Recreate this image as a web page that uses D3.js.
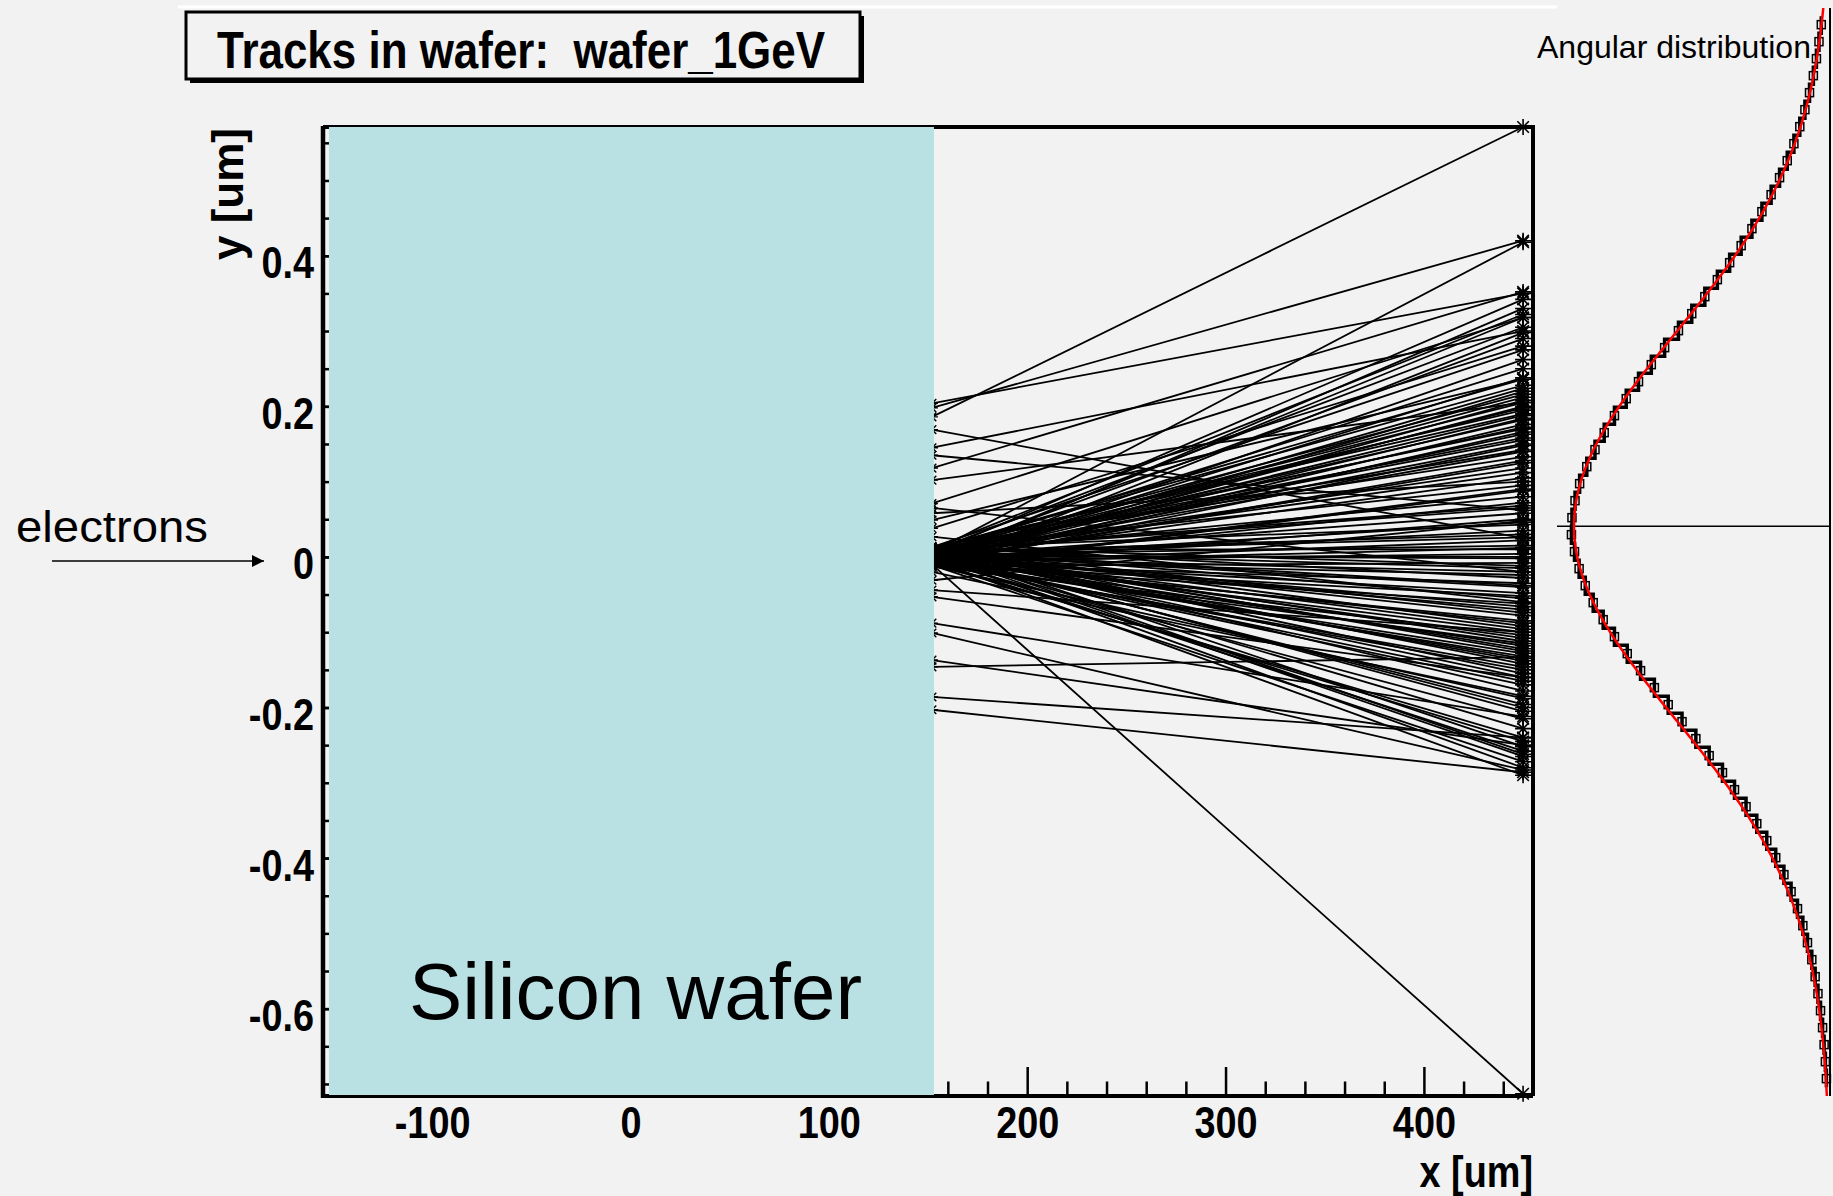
<!DOCTYPE html>
<html>
<head>
<meta charset="utf-8">
<script src="https://cdn.jsdelivr.net/npm/d3@7"></script>
<style>
html, body { margin: 0; padding: 0; background: #f2f2f2; }
svg { display: block; }
text { font-family: "Liberation Sans", Arial, Helvetica, sans-serif; }
</style>
</head>
<body>
<div id="chart"></div>
<script>
// Tick labels of the track plot
var xTicks = [-100, 0, 100, 200, 300, 400];
var yTicks = [0.4, 0.2, 0, -0.2, -0.4, -0.6];

// Wafer extent in x [um], and where tracks leave it / are recorded
var waferX = [-152, 153];
var trackX = [152, 450];

// Track y [um] at wafer exit and at x = 450 um
var trackStartY = [
    0.204, 0.198, 0.186, 0.169, 0.145, 0.135, 0.118, 0.102, 0.071, 0.065,
    0.058, 0.049, 0.038, 0.027, -0.020, -0.031, -0.044, -0.053, -0.088, -0.101,
    -0.137, -0.146, -0.186, -0.203, -0.010, 0.006,
    0.004, -0.006, 0.011, -0.002, 0.008, -0.012, 0.002, 0.013, -0.008, 0.005,
    -0.003, 0.010, -0.010, 0.001, 0.007, -0.005, 0.012, -0.001, 0.003, -0.009,
    0.009, -0.004, 0.006, -0.011, 0.000, 0.014, -0.007, 0.004, -0.002, 0.011,
    -0.013, 0.005, -0.006, 0.008, 0.001, -0.010, 0.012, -0.003, 0.006, -0.008,
    0.003, 0.010, -0.005, 0.002, -0.012, 0.007, -0.001, 0.013, -0.009, 0.004,
    -0.004, 0.009, -0.011, 0.001, 0.006, -0.007, 0.011, -0.002, 0.003, -0.010,
    0.008, -0.006, 0.000, 0.012, -0.008, 0.005, -0.003, 0.010, -0.012, 0.002,
    0.007, -0.005, 0.004, -0.009, 0.013, -0.001, 0.006, -0.011, 0.003, -0.004,
    0.010, -0.004, 0.006, -0.009, 0.002, 0.012, -0.006, 0.004, -0.011, 0.008,
    -0.002, 0.011, -0.007, 0.003, -0.012, 0.009, -0.003, 0.006, -0.008, 0.001,
    0.013, -0.005, 0.007, -0.010, 0.002, 0.010, -0.004, 0.005, -0.013, 0.008,
    -0.001, 0.011, -0.006, 0.003, -0.009, 0.012, -0.002, 0.004, -0.007, 0.009
];
var trackEndY = [
    0.350, 0.420, 0.571, 0.025, 0.300, 0.062, 0.352, 0.205, 0.318, -0.020,
    0.100, 0.236, 0.280, -0.060, -0.185, 0.048, -0.100, -0.160, -0.212, -0.283,
    -0.250, -0.133, -0.240, -0.286, -0.713, 0.418,
    0.342, 0.330, 0.322, 0.318, 0.305, 0.298, 0.290, 0.275, 0.262, 0.250,
    0.238, 0.228, 0.220, 0.212, 0.205, 0.200, 0.195, 0.188, 0.182, 0.176,
    0.170, 0.163, 0.155, 0.148, 0.140, 0.133, 0.125, 0.118, 0.105, 0.095,
    0.088, 0.080, 0.072, 0.065, 0.058, 0.050, 0.043, 0.035, 0.030, 0.022,
    0.015, 0.010, 0.004, -0.002, -0.008, -0.015, -0.020, -0.028, -0.035, -0.040,
    -0.048, -0.055, -0.062, -0.070, -0.078, -0.085, -0.092, -0.100, -0.108, -0.115,
    -0.122, -0.128, -0.135, -0.142, -0.150, -0.160, -0.170, -0.178, -0.188, -0.196,
    -0.205, -0.215, -0.228, -0.240, -0.252, -0.258, -0.265, -0.272, -0.280, -0.290,
    0.236, 0.224, 0.216, 0.208, 0.198, 0.190, 0.184, 0.172, 0.166, 0.158,
    0.150, 0.142, 0.128, 0.112, 0.090, 0.068, 0.046, 0.026, 0.012, 0.000,
    -0.012, -0.024, -0.038, -0.052, -0.066, -0.074, -0.088, -0.096, -0.104, -0.112,
    -0.118, -0.125, -0.132, -0.138, -0.146, -0.155, -0.165, -0.200, -0.245, -0.262
];

// Angular distribution: bins of 0.05 starting at -1.65, counts
var angBinStart = -1.65, angBinWidth = 0.05;
var angCounts = [
    14, 18, 23, 29, 37, 47, 58, 71, 88, 106,
    127, 152, 180, 212, 247, 286, 328, 373, 420, 472,
    524, 578, 632, 686, 740, 792, 842, 886, 925, 956,
    980, 998, 1010, 1008, 996, 978, 950, 918, 882, 842,
    796, 748, 698, 646, 592, 540, 489, 440, 392, 347,
    305, 266, 230, 197, 167, 141, 118, 98, 80, 65,
    53, 43, 34
];
// Gaussian fit parameters
var fitAmp = 1000, fitMean = 0, fitSigma = 0.565;

var W = 1833, H = 1196;
var svg = d3.select("#chart").append("svg")
    .attr("width", W).attr("height", H);

svg.append("rect").attr("width", W).attr("height", H).attr("fill", "#f2f2f2");

// thin white strip along the top
svg.append("line")
    .attr("x1", 178).attr("x2", 1557).attr("y1", 7).attr("y2", 7)
    .attr("stroke", "#ffffff").attr("stroke-width", 3);

// Scales of the track plot
var x = d3.scaleLinear().domain([-155, 455]).range([323, 1533]);
var y = d3.scaleLinear().domain([-0.716, 0.571]).range([1096, 127]);

// Axis ticks (ROOT style: inside the frame)
var squeeze = 0.86;

var gxMinor = svg.append("g").attr("transform", "translate(0," + y.range()[0] + ")");
gxMinor.call(d3.axisBottom(x)
    .tickValues(d3.range(-140, 455, 20).filter(function(d) { return d % 100 != 0; }))
    .tickSize(-14.5).tickFormat(""));
var gx = svg.append("g").attr("transform", "translate(0," + y.range()[0] + ")");
gx.call(d3.axisBottom(x).tickValues(xTicks).tickSize(-29).tickPadding(11)
    .tickFormat(function(d) { return String(d); }));

var gyMinor = svg.append("g").attr("transform", "translate(" + x.range()[0] + ",0)");
gyMinor.call(d3.axisLeft(y)
    .tickValues(d3.range(-14, 12).map(function(k) { return k * 0.05; }))
    .tickSize(-14.5).tickFormat(""));
var gy = svg.append("g").attr("transform", "translate(" + x.range()[0] + ",0)");
gy.call(d3.axisLeft(y).tickValues(yTicks).tickSize(-29).tickPadding(10.5)
    .tickFormat(function(d) { return String(d); }));

svg.selectAll(".domain").remove();
svg.selectAll(".tick line").attr("stroke", "#000").attr("stroke-width", 2.5);
svg.selectAll(".tick text")
    .attr("fill", "#000")
    .style("font-size", "44px")
    .style("font-weight", "bold")
    .style("font-family", "'Liberation Sans', Arial, sans-serif")
    .attr("transform", "scale(" + squeeze + ",1)");
gy.selectAll(".tick text").attr("dy", "0.5em");

// Tracks
var star = function(r) {
    var a = r * 0.72;
    return "M" + (-r) + ",0H" + r + "M0," + (-r) + "V" + r +
        "M" + (-a) + "," + (-a) + "L" + a + "," + a +
        "M" + (-a) + "," + a + "L" + a + "," + (-a);
};

var tracks = trackStartY.map(function(s, i) { return { y0: s, y1: trackEndY[i] }; });

svg.append("g").attr("class", "tracks")
    .selectAll("line").data(tracks)
    .enter().append("line")
    .attr("x1", x(trackX[0])).attr("x2", x(trackX[1]))
    .attr("y1", function(d) { return y(d.y0); })
    .attr("y2", function(d) { return y(d.y1); })
    .attr("stroke", "#000").attr("stroke-width", 1.8);

var markers = svg.append("g").attr("class", "markers");
markers.selectAll("path.end").data(tracks)
    .enter().append("path").attr("class", "end")
    .attr("transform", function(d) { return "translate(" + x(trackX[1]) + "," + y(d.y1) + ")"; })
    .attr("d", star(8))
    .attr("fill", "none").attr("stroke", "#000").attr("stroke-width", 1.6);
markers.selectAll("path.start").data(tracks)
    .enter().append("path").attr("class", "start")
    .attr("transform", function(d) { return "translate(" + x(trackX[0]) + "," + y(d.y0) + ")"; })
    .attr("d", star(6))
    .attr("fill", "none").attr("stroke", "#000").attr("stroke-width", 1.4);

// Frame
svg.append("path")
    .attr("d", "M" + x.range()[0] + "," + y.range()[1] + "H" + x.range()[1] + "V" + y.range()[0])
    .attr("fill", "none").attr("stroke", "#000").attr("stroke-width", 4);
svg.append("line")
    .attr("x1", x.range()[0]).attr("x2", x.range()[1])
    .attr("y1", y.range()[0]).attr("y2", y.range()[0])
    .attr("stroke", "#000").attr("stroke-width", 4);
svg.append("line")
    .attr("x1", x.range()[0]).attr("x2", x.range()[0])
    .attr("y1", y.range()[1] - 1).attr("y2", y.range()[0] + 2)
    .attr("stroke", "#000").attr("stroke-width", 4.5);

// Silicon wafer overlay
svg.append("rect")
    .attr("x", x(waferX[0])).attr("y", y.range()[1])
    .attr("width", x(waferX[1]) - x(waferX[0]))
    .attr("height", y.range()[0] - y.range()[1] - 1)
    .attr("fill", "#b9e0e3");

svg.append("text")
    .attr("x", 409).attr("y", 1019)
    .attr("textLength", 453).attr("lengthAdjust", "spacingAndGlyphs")
    .style("font-size", "80px").attr("fill", "#000")
    .text("Silicon wafer");

// Axis titles
svg.append("text")
    .attr("transform", "translate(" + x.range()[1] + ",1187) scale(" + squeeze + ",1)")
    .attr("text-anchor", "end")
    .style("font-size", "44px").style("font-weight", "bold")
    .text("x [um]");
svg.append("text")
    .attr("transform", "translate(243,128) rotate(-90)")
    .attr("text-anchor", "end")
    .style("font-size", "44px").style("font-weight", "bold")
    .text("y [um]");

// Title box with shadow
svg.append("rect").attr("x", 190).attr("y", 16).attr("width", 674).attr("height", 67).attr("fill", "#000");
svg.append("rect").attr("x", 186).attr("y", 12).attr("width", 674).attr("height", 67)
    .attr("fill", "#f2f2f2").attr("stroke", "#000").attr("stroke-width", 3);
svg.append("text")
    .attr("x", 217).attr("y", 68)
    .attr("textLength", 608).attr("lengthAdjust", "spacingAndGlyphs")
    .style("font-size", "52px").style("font-weight", "bold").style("white-space", "pre")
    .text("Tracks in wafer:  wafer_1GeV");

// electrons arrow
svg.append("defs").append("marker")
    .attr("id", "arrow").attr("viewBox", "0 0 10 10")
    .attr("refX", 10).attr("refY", 5)
    .attr("markerUnits", "userSpaceOnUse")
    .attr("markerWidth", 15).attr("markerHeight", 12)
    .attr("orient", "auto")
    .append("path").attr("d", "M0,0L10,5L0,10Z").attr("fill", "#000");
svg.append("line")
    .attr("x1", 52).attr("x2", 264).attr("y1", 561).attr("y2", 561)
    .attr("stroke", "#000").attr("stroke-width", 1.5)
    .attr("marker-end", "url(#arrow)");
svg.append("text")
    .attr("x", 16).attr("y", 542)
    .attr("textLength", 192).attr("lengthAdjust", "spacingAndGlyphs")
    .style("font-size", "44px").attr("fill", "#000")
    .text("electrons");

// Angular distribution panel
var angY = d3.scaleLinear().domain([-1.676, 1.524]).range([1096, 8]);
var angX = d3.scaleLinear().domain([0, 1000]).range([1830, 1574]);

svg.append("line")
    .attr("x1", angX(0)).attr("x2", angX(0)).attr("y1", angY.range()[1]).attr("y2", angY.range()[0])
    .attr("stroke", "#000").attr("stroke-width", 2);
svg.append("line")
    .attr("x1", 1557).attr("x2", angX(0)).attr("y1", angY(0)).attr("y2", angY(0))
    .attr("stroke", "#000").attr("stroke-width", 1.5);

var bins = angCounts.map(function(c, i) {
    var lo = angBinStart + i * angBinWidth;
    return { lo: lo, hi: lo + angBinWidth, c: c };
});
var histPts = bins.map(function(b) { return [angX(b.c), angY(b.lo)]; });
histPts.push([angX(bins[bins.length - 1].c), angY(bins[bins.length - 1].hi)]);

svg.append("g").selectAll("rect").data(bins)
    .enter().append("rect")
    .attr("x", function(d) { return angX(d.c) - 4; })
    .attr("y", function(d) { return angY((d.lo + d.hi) / 2) - 4; })
    .attr("width", 8).attr("height", 8)
    .attr("fill", "none").attr("stroke", "#000").attr("stroke-width", 1.5);

svg.append("path")
    .attr("d", d3.line().curve(d3.curveStepBefore)(histPts))
    .attr("fill", "none").attr("stroke", "#000").attr("stroke-width", 3.5);

var fitPts = d3.range(0, 321).map(function(k) {
    var t = angY.domain()[0] + k * (angY.domain()[1] - angY.domain()[0]) / 320;
    var z = (t - fitMean) / fitSigma;
    return [angX(fitAmp * Math.exp(-0.5 * z * z)), angY(t)];
});
svg.append("path")
    .attr("d", d3.line()(fitPts))
    .attr("fill", "none").attr("stroke", "#ff0000").attr("stroke-width", 2.5);

svg.append("text")
    .attr("x", 1537).attr("y", 58)
    .style("font-size", "32px").attr("fill", "#000")
    .text("Angular distribution");
</script>
</body>
</html>
